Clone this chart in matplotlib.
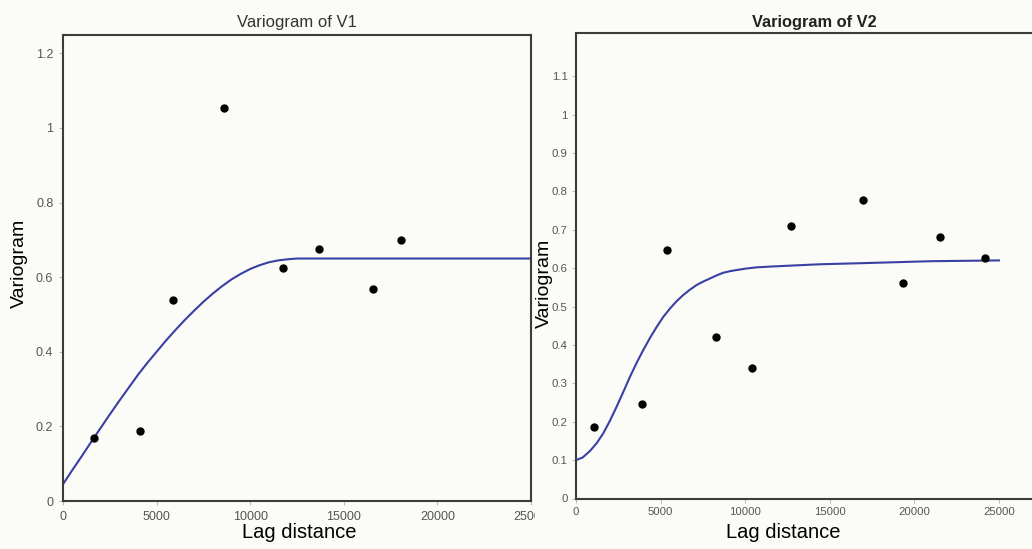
import matplotlib
matplotlib.use("Agg")
import matplotlib.pyplot as plt
from matplotlib.transforms import Bbox, TransformedBbox

plt.rcParams['font.family'] = ['Liberation Sans', 'DejaVu Sans']

# ---- data: Variogram of V1 ----
v1_lag = [1680, 4110, 5900, 8620, 11750, 13650, 16550, 18040]
v1_gamma = [0.168, 0.187, 0.540, 1.053, 0.625, 0.676, 0.567, 0.699]
v1_model_lag = [0, 500, 1000, 1500, 2000, 2500, 3000, 3500, 4000, 4500,
                5000, 5500, 6000, 6500, 7000, 7500, 8000, 8500, 9000, 9500,
                10000, 10500, 11000, 11500, 12000, 12500, 25000]
v1_model_gamma = [0.045, 0.083, 0.120, 0.158, 0.195, 0.232, 0.268, 0.303,
                  0.338, 0.370, 0.400, 0.430, 0.458, 0.485, 0.510, 0.534,
                  0.556, 0.576, 0.594, 0.609, 0.622, 0.632, 0.640, 0.645,
                  0.648, 0.650, 0.650]

# ---- data: Variogram of V2 ----
v2_lag = [1060, 3880, 5360, 8250, 10420, 12690, 16940, 19345, 21530, 24150]
v2_gamma = [0.187, 0.247, 0.648, 0.421, 0.339, 0.709, 0.778, 0.562, 0.680, 0.626]
v2_model_lag = [0, 400, 830, 1220, 1615, 2000, 2400, 2800, 3190, 3580, 3980,
                4370, 4770, 5160, 5560, 5950, 6340, 6740, 7130, 7520, 7920,
                8310, 8710, 9100, 9500, 10080, 10680, 11500, 12450, 14420,
                17000, 21000, 25000]
v2_model_gamma = [0.100, 0.107, 0.124, 0.144, 0.170, 0.202, 0.239, 0.278,
                  0.317, 0.353, 0.387, 0.418, 0.447, 0.473, 0.495, 0.514,
                  0.530, 0.544, 0.556, 0.565, 0.573, 0.581, 0.588, 0.592,
                  0.595, 0.599, 0.602, 0.604, 0.606, 0.610, 0.613, 0.618,
                  0.620]

x_ticks = [0, 5000, 10000, 15000, 20000, 25000]
v1_yticks = [0, 0.2, 0.4, 0.6, 0.8, 1.0, 1.2]
v1_yticklabels = ['0', '0.2', '0.4', '0.6', '0.8', '1', '1.2']
v2_yticks = [0, 0.1, 0.2, 0.3, 0.4, 0.5, 0.6, 0.7, 0.8, 0.9, 1.0, 1.1]
v2_yticklabels = ['0', '0.1', '0.2', '0.3', '0.4', '0.5', '0.6', '0.7',
                  '0.8', '0.9', '1', '1.1']

BG = '#fbfbf8'
SPINE = '#3c3c3c'
LINE = '#3a3fa3'
TICKC = '#555555'

W, H = 1032, 549
fig = plt.figure(figsize=(W / 100, H / 100), dpi=100, facecolor=BG)


def px_axes(l, t, r, b):
    return fig.add_axes([l / W, (H - b) / H, (r - l) / W, (b - t) / H])


# ---------- left panel ----------
ax1 = px_axes(63, 34.7, 531, 501)
ax1.set_facecolor(BG)
ax1.plot(v1_model_lag, v1_model_gamma, color=LINE, lw=1.5, zorder=2)
ax1.plot(v1_lag, v1_gamma, 'o', color='black', ms=5, zorder=3)
ax1.set_xlim(0, 25000)
ax1.set_ylim(0, 1.25)
ax1.set_xticks(x_ticks)
ax1.set_xticklabels([str(v) for v in x_ticks])
ax1.set_yticks(v1_yticks)
ax1.set_yticklabels(v1_yticklabels)
ax1.tick_params(axis='both', length=3, width=0.8, color='#bbbbbb',
                labelsize=9, labelcolor=TICKC, pad=4)
for s in ax1.spines.values():
    s.set_color(SPINE)
    s.set_linewidth(1.5)
ax1.set_title('Variogram of V1', fontsize=12, color='#333333',
              x=0.50, y=1.0165, va='baseline', pad=0)
ax1.set_xlabel('Lag distance', fontsize=14.5, color='black')
ax1.xaxis.set_label_coords(0.504, -0.0686)
ax1.xaxis.label.set_verticalalignment('center')
ax1.set_ylabel('Variogram', fontsize=14, color='black')
ax1.yaxis.set_label_coords(-0.094, 0.51)
ax1.yaxis.label.set_verticalalignment('center')

# the last x tick label of the left panel is cut off by the right panel
clip = TransformedBbox(Bbox([[0, 0], [535 / W, 1]]), fig.transFigure)
for lab in ax1.get_xticklabels():
    lab.set_clip_box(clip)
    lab.set_clip_on(True)

# ---------- right panel ----------
ax2 = px_axes(576, 33.3, 1032, 498.5)
ax2.set_facecolor(BG)
ax2.plot(v2_model_lag, v2_model_gamma, color=LINE, lw=1.5, zorder=2)
ax2.plot(v2_lag, v2_gamma, 'o', color='black', ms=5, zorder=3)
ax2.set_xlim(0, 25000 * (1032 - 576) / 423.0)
ax2.set_ylim(0, 1.2115)
ax2.set_xticks(x_ticks)
ax2.set_xticklabels([str(v) for v in x_ticks])
ax2.set_yticks(v2_yticks)
ax2.set_yticklabels(v2_yticklabels)
ax2.tick_params(axis='both', length=3, width=0.8, color='#bbbbbb',
                labelsize=8.2, labelcolor=TICKC, pad=3)
for s in ax2.spines.values():
    s.set_color(SPINE)
    s.set_linewidth(1.5)
ax2.spines['right'].set_visible(False)
ax2.set_title('Variogram of V2', fontsize=11.8, fontweight='bold',
              color='#222222', x=(814 - 576) / 456.0, y=1.0135,
              va='baseline', pad=0)
ax2.set_xlabel('Lag distance', fontsize=14.5, color='black')
ax2.xaxis.set_label_coords((783 - 576) / 456.0, -0.074)
ax2.xaxis.label.set_verticalalignment('center')
ax2.set_ylabel('Variogram', fontsize=14, color='black')
ax2.yaxis.set_label_coords(-0.070, 0.463)
ax2.yaxis.label.set_verticalalignment('center')

fig.savefig('out.png', dpi=100, facecolor=BG)
